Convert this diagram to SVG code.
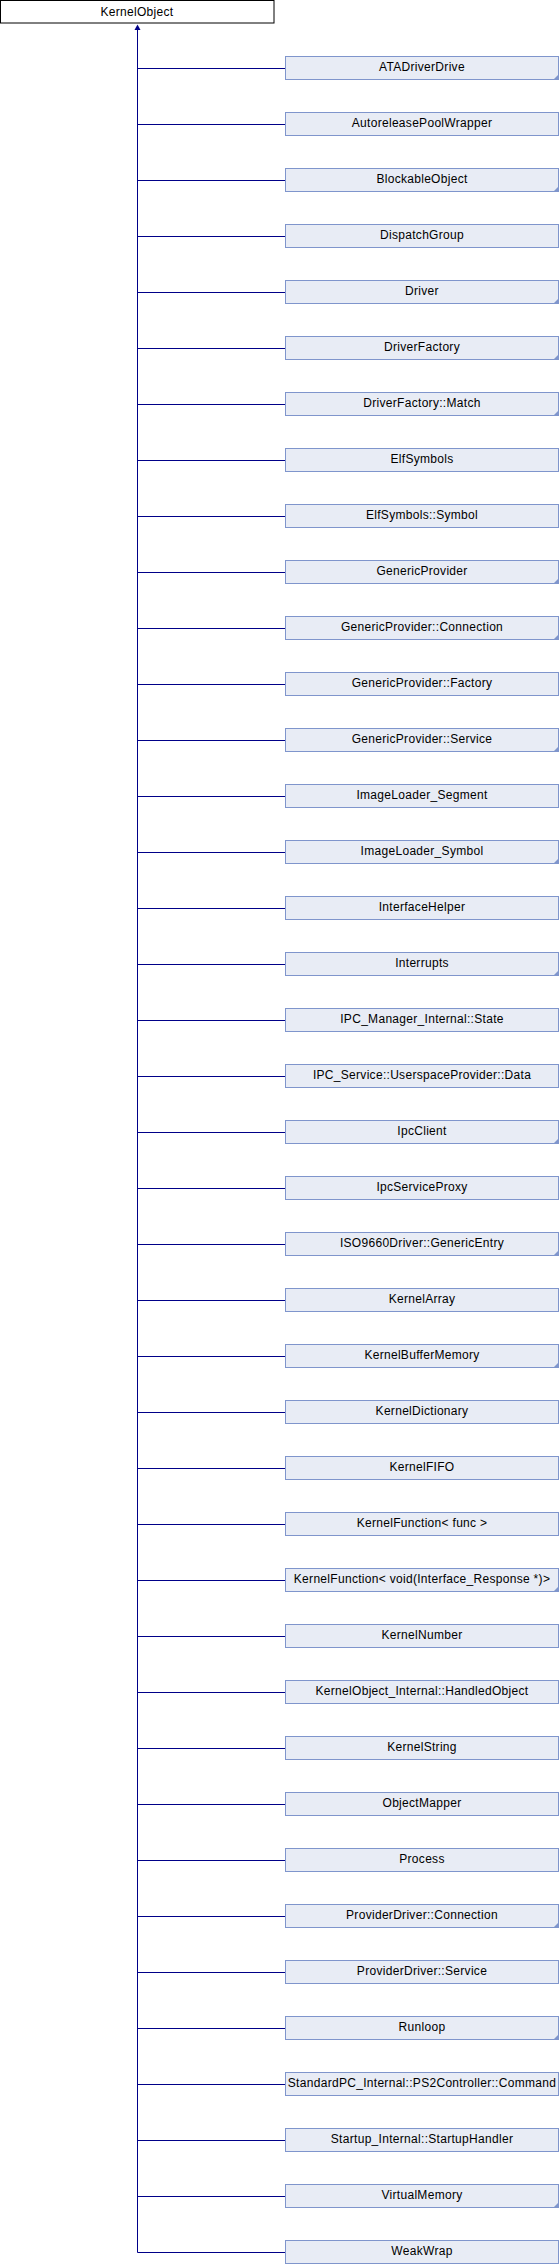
<svg xmlns="http://www.w3.org/2000/svg" width="560" height="2264" viewBox="0 0 560 2264">
<style>
.b{fill:#E8ECF5;stroke:#7F95CC;stroke-width:1}
.r{fill:#FFFFFF;stroke:#000000;stroke-width:1}
.t{font-family:"Liberation Sans",Arial,sans-serif;font-size:12px;letter-spacing:0.3px;fill:#000000;text-anchor:middle}
.m{fill:#7F95CC}
.c{stroke:#000088;stroke-width:1;fill:none}
</style>
<rect width="560" height="2264" fill="#FFFFFF"/>
<g id="connectors">
<path class="c" d="M137.5,28 V2252.5"/>
<polygon points="137.5,24.5 134.5,30 140.5,30" fill="#000088"/>
<path class="c" d="M137.5,68.5H285 M137.5,124.5H285 M137.5,180.5H285 M137.5,236.5H285 M137.5,292.5H285 M137.5,348.5H285 M137.5,404.5H285 M137.5,460.5H285 M137.5,516.5H285 M137.5,572.5H285 M137.5,628.5H285 M137.5,684.5H285 M137.5,740.5H285 M137.5,796.5H285 M137.5,852.5H285 M137.5,908.5H285 M137.5,964.5H285 M137.5,1020.5H285 M137.5,1076.5H285 M137.5,1132.5H285 M137.5,1188.5H285 M137.5,1244.5H285 M137.5,1300.5H285 M137.5,1356.5H285 M137.5,1412.5H285 M137.5,1468.5H285 M137.5,1524.5H285 M137.5,1580.5H285 M137.5,1636.5H285 M137.5,1692.5H285 M137.5,1748.5H285 M137.5,1804.5H285 M137.5,1860.5H285 M137.5,1916.5H285 M137.5,1972.5H285 M137.5,2028.5H285 M137.5,2084.5H285 M137.5,2140.5H285 M137.5,2196.5H285 M137.5,2252.5H285"/>
</g>
<g id="KernelObject"><rect class="r" x="0.5" y="0.5" width="273.5" height="22.5"/><text class="t" x="137" y="16">KernelObject</text></g>
<defs><polygon id="mk" class="m" points="553,80 559,80 559,74"/></defs>
<g id="n0"><rect class="b" x="285.5" y="56.5" width="273" height="23"/><text class="t" x="422" y="71">ATADriverDrive</text><use href="#mk" y="0"/></g>
<g id="n1"><rect class="b" x="285.5" y="112.5" width="273" height="23"/><text class="t" x="422" y="127">AutoreleasePoolWrapper</text></g>
<g id="n2"><rect class="b" x="285.5" y="168.5" width="273" height="23"/><text class="t" x="422" y="183">BlockableObject</text><use href="#mk" y="112"/></g>
<g id="n3"><rect class="b" x="285.5" y="224.5" width="273" height="23"/><text class="t" x="422" y="239">DispatchGroup</text></g>
<g id="n4"><rect class="b" x="285.5" y="280.5" width="273" height="23"/><text class="t" x="422" y="295">Driver</text><use href="#mk" y="224"/></g>
<g id="n5"><rect class="b" x="285.5" y="336.5" width="273" height="23"/><text class="t" x="422" y="351">DriverFactory</text><use href="#mk" y="280"/></g>
<g id="n6"><rect class="b" x="285.5" y="392.5" width="273" height="23"/><text class="t" x="422" y="407">DriverFactory::Match</text><use href="#mk" y="336"/></g>
<g id="n7"><rect class="b" x="285.5" y="448.5" width="273" height="23"/><text class="t" x="422" y="463">ElfSymbols</text></g>
<g id="n8"><rect class="b" x="285.5" y="504.5" width="273" height="23"/><text class="t" x="422" y="519">ElfSymbols::Symbol</text></g>
<g id="n9"><rect class="b" x="285.5" y="560.5" width="273" height="23"/><text class="t" x="422" y="575">GenericProvider</text><use href="#mk" y="504"/></g>
<g id="n10"><rect class="b" x="285.5" y="616.5" width="273" height="23"/><text class="t" x="422" y="631">GenericProvider::Connection</text><use href="#mk" y="560"/></g>
<g id="n11"><rect class="b" x="285.5" y="672.5" width="273" height="23"/><text class="t" x="422" y="687">GenericProvider::Factory</text></g>
<g id="n12"><rect class="b" x="285.5" y="728.5" width="273" height="23"/><text class="t" x="422" y="743">GenericProvider::Service</text><use href="#mk" y="672"/></g>
<g id="n13"><rect class="b" x="285.5" y="784.5" width="273" height="23"/><text class="t" x="422" y="799">ImageLoader_Segment</text></g>
<g id="n14"><rect class="b" x="285.5" y="840.5" width="273" height="23"/><text class="t" x="422" y="855">ImageLoader_Symbol</text><use href="#mk" y="784"/></g>
<g id="n15"><rect class="b" x="285.5" y="896.5" width="273" height="23"/><text class="t" x="422" y="911">InterfaceHelper</text></g>
<g id="n16"><rect class="b" x="285.5" y="952.5" width="273" height="23"/><text class="t" x="422" y="967">Interrupts</text><use href="#mk" y="896"/></g>
<g id="n17"><rect class="b" x="285.5" y="1008.5" width="273" height="23"/><text class="t" x="422" y="1023">IPC_Manager_Internal::State</text></g>
<g id="n18"><rect class="b" x="285.5" y="1064.5" width="273" height="23"/><text class="t" x="422" y="1079">IPC_Service::UserspaceProvider::Data</text></g>
<g id="n19"><rect class="b" x="285.5" y="1120.5" width="273" height="23"/><text class="t" x="422" y="1135">IpcClient</text><use href="#mk" y="1064"/></g>
<g id="n20"><rect class="b" x="285.5" y="1176.5" width="273" height="23"/><text class="t" x="422" y="1191">IpcServiceProxy</text></g>
<g id="n21"><rect class="b" x="285.5" y="1232.5" width="273" height="23"/><text class="t" x="422" y="1247">ISO9660Driver::GenericEntry</text><use href="#mk" y="1176"/></g>
<g id="n22"><rect class="b" x="285.5" y="1288.5" width="273" height="23"/><text class="t" x="422" y="1303">KernelArray</text></g>
<g id="n23"><rect class="b" x="285.5" y="1344.5" width="273" height="23"/><text class="t" x="422" y="1359">KernelBufferMemory</text><use href="#mk" y="1288"/></g>
<g id="n24"><rect class="b" x="285.5" y="1400.5" width="273" height="23"/><text class="t" x="422" y="1415">KernelDictionary</text></g>
<g id="n25"><rect class="b" x="285.5" y="1456.5" width="273" height="23"/><text class="t" x="422" y="1471">KernelFIFO</text></g>
<g id="n26"><rect class="b" x="285.5" y="1512.5" width="273" height="23"/><text class="t" x="422" y="1527">KernelFunction&lt; func &gt;</text></g>
<g id="n27"><rect class="b" x="285.5" y="1568.5" width="273" height="23"/><text class="t" x="422" y="1583">KernelFunction&lt; void(Interface_Response *)&gt;</text><use href="#mk" y="1512"/></g>
<g id="n28"><rect class="b" x="285.5" y="1624.5" width="273" height="23"/><text class="t" x="422" y="1639">KernelNumber</text></g>
<g id="n29"><rect class="b" x="285.5" y="1680.5" width="273" height="23"/><text class="t" x="422" y="1695">KernelObject_Internal::HandledObject</text></g>
<g id="n30"><rect class="b" x="285.5" y="1736.5" width="273" height="23"/><text class="t" x="422" y="1751">KernelString</text></g>
<g id="n31"><rect class="b" x="285.5" y="1792.5" width="273" height="23"/><text class="t" x="422" y="1807">ObjectMapper</text></g>
<g id="n32"><rect class="b" x="285.5" y="1848.5" width="273" height="23"/><text class="t" x="422" y="1863">Process</text></g>
<g id="n33"><rect class="b" x="285.5" y="1904.5" width="273" height="23"/><text class="t" x="422" y="1919">ProviderDriver::Connection</text><use href="#mk" y="1848"/></g>
<g id="n34"><rect class="b" x="285.5" y="1960.5" width="273" height="23"/><text class="t" x="422" y="1975">ProviderDriver::Service</text></g>
<g id="n35"><rect class="b" x="285.5" y="2016.5" width="273" height="23"/><text class="t" x="422" y="2031">Runloop</text><use href="#mk" y="1960"/></g>
<g id="n36"><rect class="b" x="285.5" y="2072.5" width="273" height="23"/><text class="t" x="422" y="2087">StandardPC_Internal::PS2Controller::Command</text></g>
<g id="n37"><rect class="b" x="285.5" y="2128.5" width="273" height="23"/><text class="t" x="422" y="2143">Startup_Internal::StartupHandler</text></g>
<g id="n38"><rect class="b" x="285.5" y="2184.5" width="273" height="23"/><text class="t" x="422" y="2199">VirtualMemory</text><use href="#mk" y="2128"/></g>
<g id="n39"><rect class="b" x="285.5" y="2240.5" width="273" height="23"/><text class="t" x="422" y="2255">WeakWrap</text></g>
</svg>
